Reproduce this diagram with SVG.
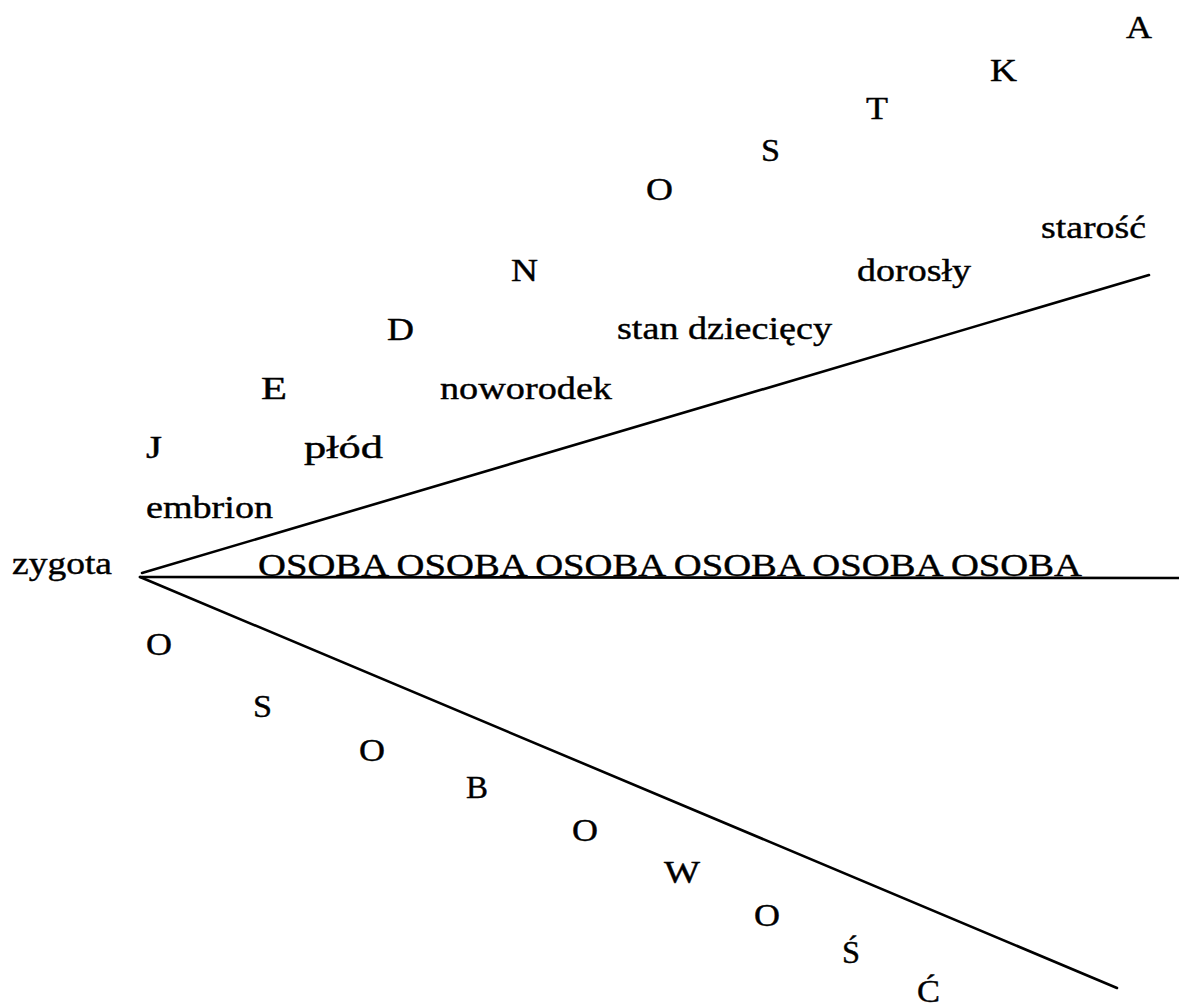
<svg xmlns="http://www.w3.org/2000/svg" width="1179" height="1007" viewBox="0 0 1179 1007">
<style>
text { font-family: "Liberation Serif", Tinos, "Times New Roman", Times, serif; font-size: 31px; fill: #000; stroke: #000; stroke-width: 0.4; }
.ln { stroke: #000; stroke-width: 2.6; fill: none; stroke-linecap: round; }
</style>
<rect width="1179" height="1007" fill="#fff"/>
<g id="connectors">
<line class="ln" x1="142" y1="573" x2="1149" y2="275"/>
<line class="ln" x1="140" y1="577" x2="1179" y2="578"/>
<line class="ln" x1="140" y1="577" x2="1117" y2="988"/>
</g>
<g id="node-zygota"><text x="12" y="574" textLength="100" lengthAdjust="spacingAndGlyphs">zygota</text></g>
<g id="node-osoba"><text x="258" y="576" textLength="824" lengthAdjust="spacingAndGlyphs">OSOBA OSOBA OSOBA OSOBA OSOBA OSOBA</text></g>
<g id="node-embrion"><text x="146" y="518" textLength="127" lengthAdjust="spacingAndGlyphs">embrion</text></g>
<g id="node-plod"><text x="304" y="458" textLength="79" lengthAdjust="spacingAndGlyphs">płód</text></g>
<g id="node-noworodek"><text x="440" y="399" textLength="172" lengthAdjust="spacingAndGlyphs">noworodek</text></g>
<g id="node-stan"><text x="617" y="339" textLength="215" lengthAdjust="spacingAndGlyphs">stan dziecięcy</text></g>
<g id="node-dorosly"><text x="857" y="281" textLength="114" lengthAdjust="spacingAndGlyphs">dorosły</text></g>
<g id="node-starosc"><text x="1041" y="238" textLength="105" lengthAdjust="spacingAndGlyphs">starość</text></g>
<g id="node-jednostka">
<text x="146" y="458" textLength="16" lengthAdjust="spacingAndGlyphs">J</text>
<text x="261" y="399" textLength="26" lengthAdjust="spacingAndGlyphs">E</text>
<text x="387" y="340" textLength="27" lengthAdjust="spacingAndGlyphs">D</text>
<text x="511" y="281" textLength="27" lengthAdjust="spacingAndGlyphs">N</text>
<text x="646" y="200" textLength="27" lengthAdjust="spacingAndGlyphs">O</text>
<text x="761" y="161" textLength="19" lengthAdjust="spacingAndGlyphs">S</text>
<text x="866" y="119" textLength="22" lengthAdjust="spacingAndGlyphs">T</text>
<text x="990" y="81" textLength="27" lengthAdjust="spacingAndGlyphs">K</text>
<text x="1126" y="38" textLength="26" lengthAdjust="spacingAndGlyphs">A</text>
</g>
<g id="node-osobowosc">
<text x="146" y="655" textLength="26" lengthAdjust="spacingAndGlyphs">O</text>
<text x="253" y="717" textLength="19" lengthAdjust="spacingAndGlyphs">S</text>
<text x="359" y="761" textLength="26" lengthAdjust="spacingAndGlyphs">O</text>
<text x="466" y="798" textLength="22" lengthAdjust="spacingAndGlyphs">B</text>
<text x="572" y="841" textLength="26" lengthAdjust="spacingAndGlyphs">O</text>
<text x="664" y="883" textLength="36" lengthAdjust="spacingAndGlyphs">W</text>
<text x="754" y="926" textLength="26" lengthAdjust="spacingAndGlyphs">O</text>
<text x="842" y="963" textLength="18" lengthAdjust="spacingAndGlyphs">Ś</text>
<text x="917" y="1002" textLength="23" lengthAdjust="spacingAndGlyphs">Ć</text>
</g>
</svg>
